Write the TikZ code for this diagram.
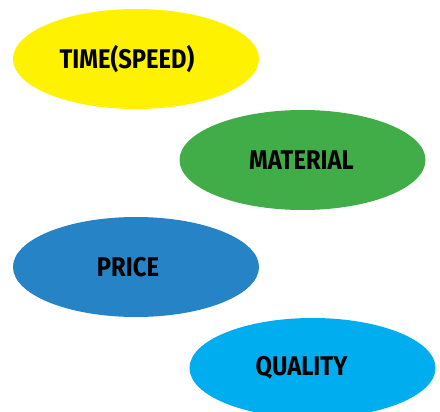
\documentclass[tikz,border=0pt]{standalone}
\usepackage{fontspec}
\setmainfont{Fira Sans}[FakeStretch=0.88]
\usetikzlibrary{calc,shapes.geometric}
\definecolor{timeyellow}{HTML}{FFF200}
\definecolor{matgreen}{HTML}{41AD49}
\definecolor{priceblue}{HTML}{2583C6}
\definecolor{qualcyan}{HTML}{00AEEF}
\tikzset{
  blob/.style={ellipse, draw=none, minimum width=246pt, minimum height=100pt, inner sep=0pt},
  blobtext/.style={font=\fontsize{27}{30}\selectfont\bfseries, text=black, inner sep=0pt}
}

\begin{document}
\begin{tikzpicture}[x=1pt, y=-1pt]
            \useasboundingbox (0,0) rectangle (440,412);
            \clip (0,0) rectangle (440,412);
            % Ellipses with color coding
            \foreach \n/\x/\y/\col/\txt/\dx in {time/136/59/timeyellow/TIME(SPEED)/-9,
                    material/302.5/160/matgreen/MATERIAL/-1,
                    price/136/267/priceblue/PRICE/-8,
                    quality/312.5/368/qualcyan/QUALITY/-11} {
                \node[blob, fill=\col] (\n) at (\x, \y) {};
                \node[blobtext] (\n-txt) at ($(\n.center)+(\dx, 0)$) {\txt};
            }
        \end{tikzpicture}
\end{document}
